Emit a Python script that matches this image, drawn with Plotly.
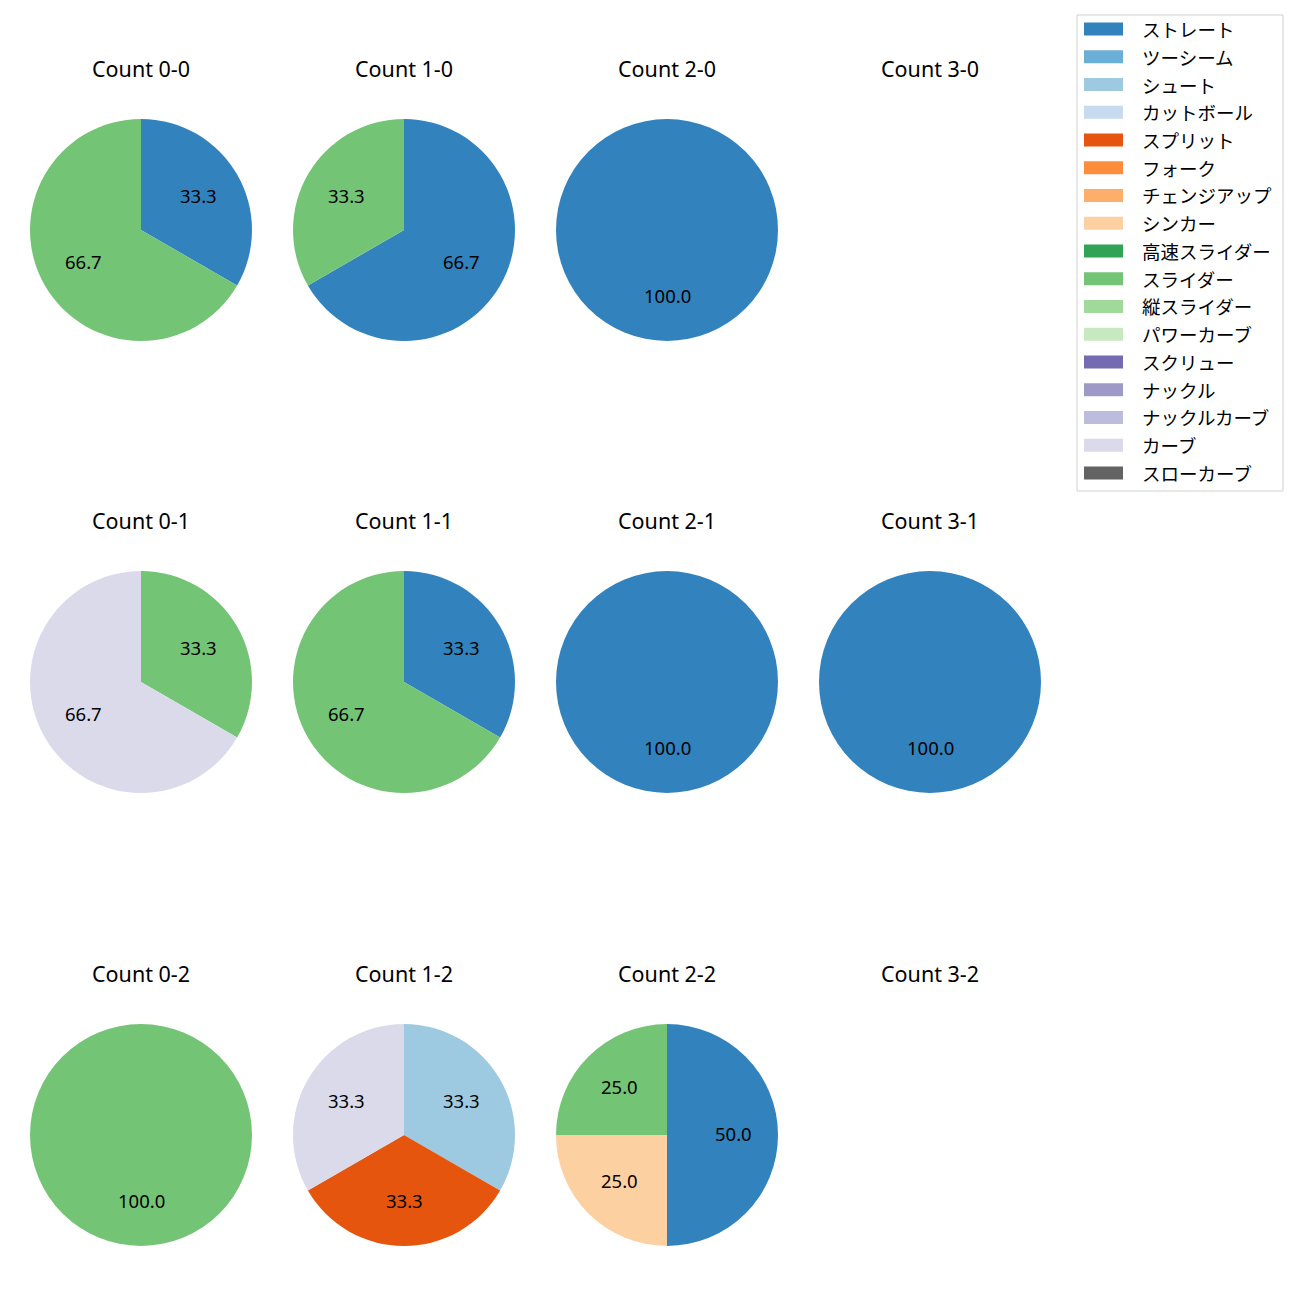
import math
import plotly.graph_objects as go

W = H = 1300
OFF = 8  # page body margin in the browser

categories = ["ストレート", "ツーシーム", "シュート", "カットボール", "スプリット", "フォーク",
              "チェンジアップ", "シンカー", "高速スライダー", "スライダー", "縦スライダー",
              "パワーカーブ", "スクリュー", "ナックル", "ナックルカーブ", "カーブ", "スローカーブ"]
colors = ["#3182bd", "#6baed6", "#9ecae1", "#c6dbef", "#e6550d", "#fd8d3c", "#fdae6b",
          "#fdd0a2", "#31a354", "#74c476", "#a1d99b", "#c7e9c0", "#756bb1", "#9e9ac8",
          "#bcbddc", "#dadaeb", "#636363"]
color_of = dict(zip(categories, colors))

# panel titles (balls-strikes), row by row
panel_titles = ["Count 0-0", "Count 1-0", "Count 2-0", "Count 3-0",
                "Count 0-1", "Count 1-1", "Count 2-1", "Count 3-1",
                "Count 0-2", "Count 1-2", "Count 2-2", "Count 3-2"]
# pitch counts per panel
panel_labels = [
    ["ストレート", "スライダー"],
    ["ストレート", "スライダー"],
    ["ストレート"],
    [],
    ["スライダー", "カーブ"],
    ["ストレート", "スライダー"],
    ["ストレート"],
    ["ストレート"],
    ["スライダー"],
    ["シュート", "スプリット", "カーブ"],
    ["ストレート", "シンカー", "スライダー"],
    [],
]
panel_values = [
    [1, 2],
    [2, 1],
    [1],
    [],
    [1, 2],
    [1, 2],
    [1],
    [1],
    [1],
    [1, 1, 1],
    [2, 1, 1],
    [],
]

# layout geometry (screen pixels)
col_cx = [141, 404, 667, 930]
row_cy = [230, 682, 1135]
R = 111
TITLE_DY = 162
FONT = "Noto Sans CJK JP"
LATIN = "Noto Sans"


def px(x):
    return (x - OFF) / W


def py(y):
    return 1 - (y - OFF) / H


fig = go.Figure()
annotations = []
shapes = []

for i, title in enumerate(panel_titles):
    r, c = divmod(i, 4)
    cx, cy = col_cx[c], row_cy[r]
    annotations.append(dict(x=px(cx), y=py(cy - TITLE_DY), xref="paper", yref="paper",
                            text=title, showarrow=False, font=dict(family=LATIN, size=21.5, color="black"),
                            xanchor="center", yanchor="middle"))
    labels = panel_labels[i]
    vals = panel_values[i]
    if not vals:
        continue
    fig.add_trace(go.Pie(
        labels=labels, values=vals, sort=False, direction="clockwise", rotation=0,
        marker=dict(colors=[color_of[l] for l in labels], line=dict(width=0)),
        textinfo="none", hoverinfo="label+percent", showlegend=False,
        domain=dict(x=[px(cx - R), px(cx + R)], y=[py(cy + R), py(cy - R)]),
    ))
    total = sum(vals)
    cum = 0
    for l, v in zip(labels, vals):
        mid = math.radians(90 - 360 * (cum + v / 2) / total)
        cum += v
        tx = cx + 0.6 * R * math.cos(mid)
        ty = cy - 0.6 * R * math.sin(mid) - 1.5
        annotations.append(dict(x=px(tx), y=py(ty), xref="paper", yref="paper",
                                text=f"{100 * v / total:.1f}", showarrow=False,
                                font=dict(family=LATIN, size=18.5, color="black"),
                                xanchor="center", yanchor="middle"))

# legend (drawn manually to match spacing)
LX0, LX1, LY0, LY1 = 1077, 1283, 15, 491
shapes.append(dict(type="rect", xref="paper", yref="paper", x0=px(LX0), x1=px(LX1),
                   y0=py(LY1), y1=py(LY0), line=dict(color="#d0d0d0", width=1),
                   fillcolor="white", layer="below"))
for k, (cat, col) in enumerate(zip(categories, colors)):
    yc = 29 + k * 27.75
    shapes.append(dict(type="rect", xref="paper", yref="paper", x0=px(1084), x1=px(1123),
                       y0=py(yc + 6.5), y1=py(yc - 6.5), line=dict(width=0),
                       fillcolor=col))
    annotations.append(dict(x=px(1140), y=py(yc), xref="paper", yref="paper", text=cat,
                            showarrow=False, xanchor="left", yanchor="middle",
                            font=dict(family=FONT, size=18.5, color="black")))

fig.update_layout(width=W, height=H, margin=dict(l=0, r=0, t=0, b=0),
                  paper_bgcolor="white", plot_bgcolor="white",
                  annotations=annotations, shapes=shapes, showlegend=False)

fig.write_html("out.html")
